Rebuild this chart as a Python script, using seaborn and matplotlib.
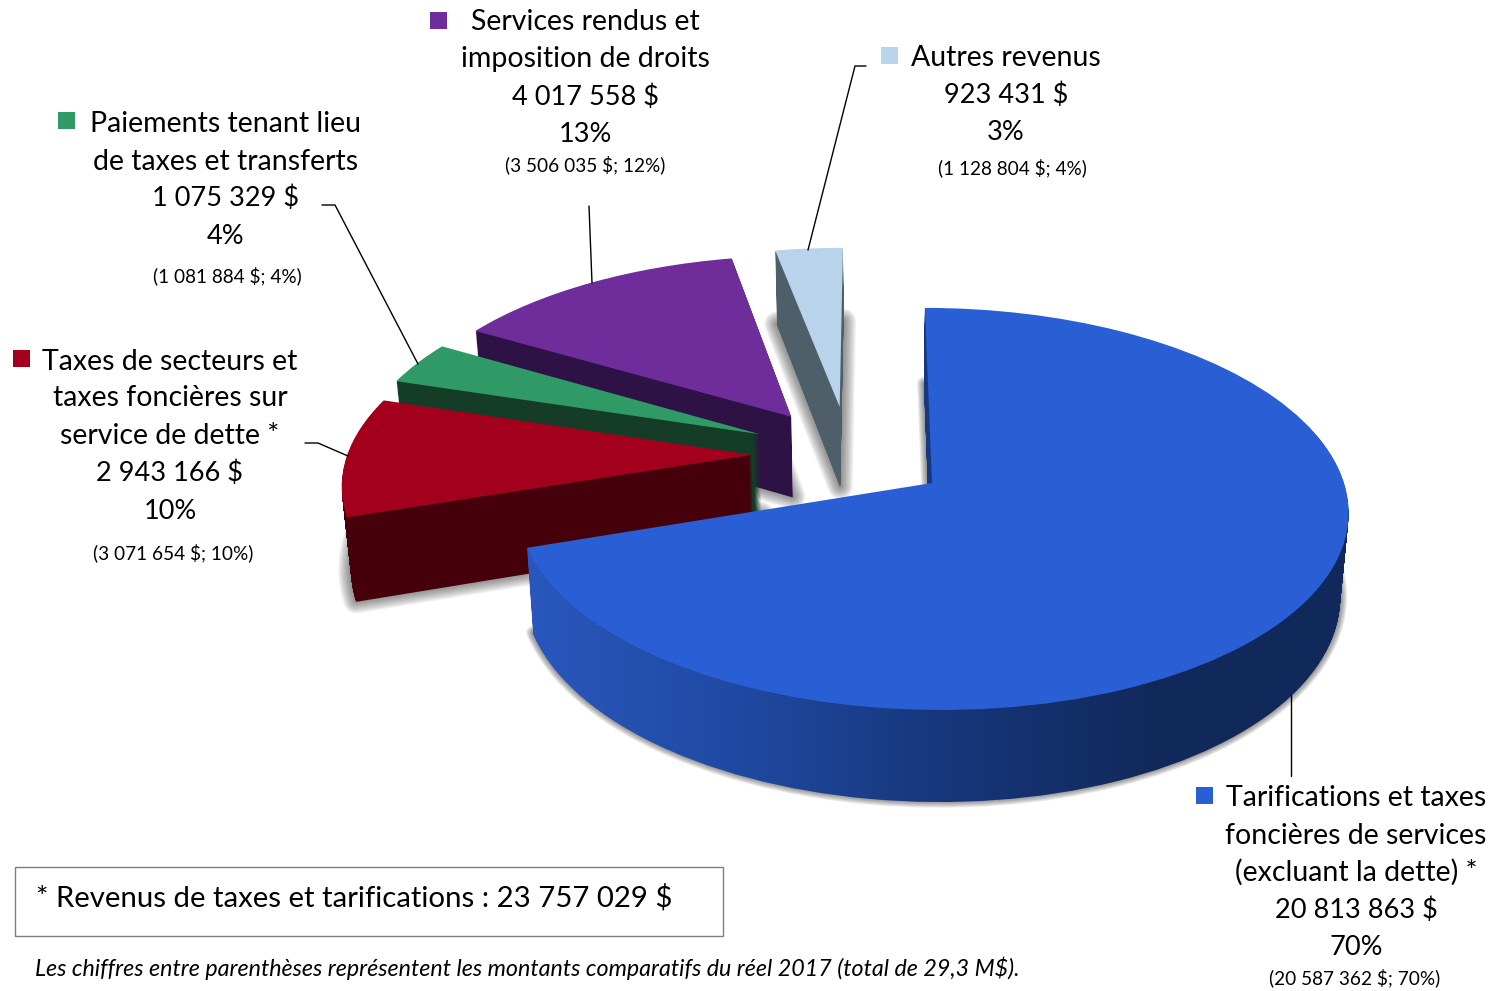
import numpy as np
import matplotlib
matplotlib.use('Agg')
import matplotlib.pyplot as plt
import seaborn as sns
from matplotlib.path import Path
from matplotlib.patches import PathPatch, Rectangle
from matplotlib.transforms import Transform

# Chart values, in drawing order (back slice first, counter clockwise from 12 o'clock)
amounts = [923431, 4017558, 1075329, 2943166, 20813863]
percents = ['3%', '13%', '4%', '10%', '70%']
amount_labels = ['923 431 $', '4 017 558 $', '1 075 329 $', '2 943 166 $', '20 813 863 $']
compare_labels = ['(1 128 804 $; 4%)', '(3 506 035 $; 12%)', '(1 081 884 $; 4%)',
                  '(3 071 654 $; 10%)', '(20 587 362 $; 70%)']
names = [['Autres revenus'],
         ['Services rendus et', 'imposition de droits'],
         ['Paiements tenant lieu', 'de taxes et transferts'],
         ['Taxes de secteurs et', 'taxes foncières sur', 'service de dette *'],
         ['Tarifications et taxes', 'foncières de services', '(excluant la dette) *']]
box_text = '* Revenus de taxes et tarifications : 23 757 029 $'
note_text = 'Les chiffres entre parenthèses représentent les montants comparatifs du réel 2017 (total de 29,3 M$).'

# Styles
top_colors = ['#b8d3ea', '#6f2d9c', '#2f9a66', '#a3001e', '#295ed5']
wall_colors = ['#4f5f6a', '#2f1245', '#143c27', '#45000c', None]
explode = [(-0.228, 0.405), (-0.35, 0.35), (-0.427, 0.255), (-0.443, 0.145), (0, 0)]
shadow_scale = [1, 1, 1, 1, 0.55]

# Text layout: centre x of the lines, y of each line, y of the small line, legend square
text_x = [1006, 585, 226, 170, 1356]
small_x = [1012, 585, 227, 173, 1355]
text_y = [[57, 94, 131], [21, 58, 96, 133], [122, 160, 197, 235],
          [360, 397, 435, 472, 510], [797, 834, 871, 909, 946]]
small_y = [167, 164, 275, 552, 977]
square_xy = [(881, 47), (430, 12), (58, 112), (13, 350), (1196, 787)]
leaders = [([866, 855, 808], [66, 66, 250]),
           ([589, 592], [206, 283]),
           ([322, 335, 418], [205, 205, 364]),
           ([305, 318, 348], [443, 443, 456]),
           ([1291, 1291], [695, 776])]

# Camera of the 3D pie
CX, CY, VX, VY = 932, 483, 870, 300
RX, RY, K = 412, 197.7, 0.129
HEIGHT = 88
SHRINK = 0.0002


class Perspective(Transform):
    # ground plane (u, v) to picture pixels, z pixels below the top surface
    input_dims = output_dims = 2
    is_affine = False
    has_inverse = False

    def __init__(self, z=0):
        super().__init__()
        self.z = z

    def transform_non_affine(self, values):
        values = np.asarray(values, dtype=float)
        s = 1 / (1 + K * values[:, 1])
        px = VX + (CX - VX + RX * values[:, 0]) * s
        py = CY - RY * values[:, 1] * s + self.z * s
        # lower layers shrink towards the point under the camera
        shrink = 1 - SHRINK * self.z
        return np.column_stack([VX + (px - VX) * shrink, VY + (py - VY) * shrink])


sns.set_theme(style='white')
plt.rcParams['font.family'] = ['Lato', 'DejaVu Sans']

fig = plt.figure(figsize=(14.95, 9.91), dpi=100)
ax = fig.add_axes([0, 0, 1, 1])

blue_cmap = sns.blend_palette(['#2a57bd', '#1f4aa3', '#17377c', '#12295c', '#11285a'],
                              n_colors=256, as_cmap=True)

total = sum(amounts)
angle = 90
order = 10
for i, value in enumerate(amounts):
    frac = value / total
    patches, _ = ax.pie([frac], normalize=False, startangle=angle, center=explode[i],
                        radius=1, colors=[top_colors[i]], wedgeprops={'linewidth': 0})
    top = patches[0]
    top.set_transform(Perspective(0) + ax.transData)
    top.set_zorder(order + 2)
    flat = top.get_path()

    # side wall: the same wedge stacked downward
    wall = Path.make_compound_path(*[Perspective(z).transform_path(flat)
                                     for z in np.arange(1, HEIGHT + 1)])

    # soft shadow around the bottom face, under every wall
    base = Perspective(HEIGHT - 1).transform_path(flat)
    for lw in np.arange(18, 1, -2):
        ax.add_patch(PathPatch(base, fc='#666666', ec='#333333', lw=lw * shadow_scale[i], alpha=0.075,
                               joinstyle='round', zorder=1))

    if wall_colors[i] is None:
        im = ax.imshow(np.linspace(0, 1, 256)[None, :], cmap=blue_cmap, aspect='auto',
                       extent=(525, 1352, 810, 300), zorder=order + 1)
        im.set_clip_path(wall, transform=ax.transData)
    else:
        ax.add_patch(PathPatch(wall, fc=wall_colors[i], ec='none', zorder=order + 1))

    angle += frac * 360
    order += 3

# Labels and leader lines
for i in range(len(amounts)):
    n = len(names[i])
    lines = names[i] + [amount_labels[i], percents[i]]
    for j, (line, y) in enumerate(zip(lines, text_y[i])):
        ax.text(text_x[i], y + 1.5, line, ha='center', va='center', color='black', zorder=50,
                fontsize=20.5 if j < n else 19.5)
    ax.text(small_x[i], small_y[i] + 0.5, compare_labels[i], ha='center', va='center',
            fontsize=13.7, color='black', zorder=50)
    ax.add_patch(Rectangle(square_xy[i], 17, 17, fc=top_colors[i], ec='none', zorder=50))
    ax.plot(leaders[i][0], leaders[i][1], color='black', lw=1, zorder=49)

ax.add_patch(Rectangle((14.5, 866.5), 708, 69.5, fc='white', ec='#7f7f7f', lw=1, zorder=50))
ax.text(36, 898, box_text, ha='left', va='center', fontsize=21.2, color='black', zorder=51)
ax.text(35, 968, note_text, ha='left', va='center', fontsize=16.75, style='italic', color='black', zorder=51)

ax.set_aspect('auto')
ax.set_xlim(0, 1495)
ax.set_ylim(991, 0)
ax.set_axis_off()

fig.savefig('out.png', dpi=100)
